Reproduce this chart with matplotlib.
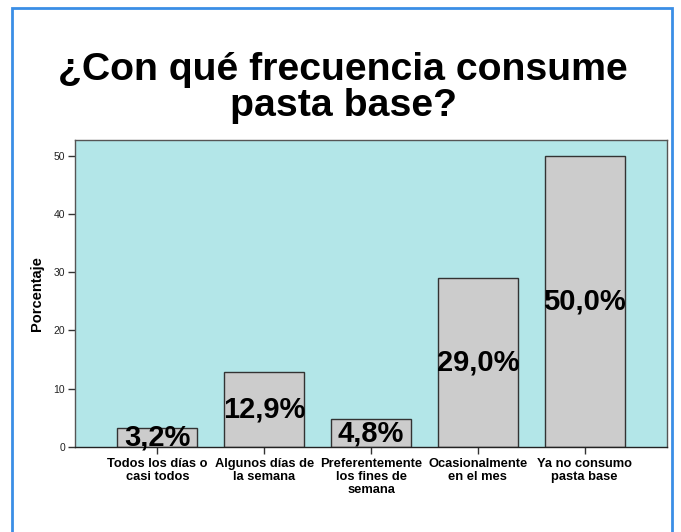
import matplotlib
matplotlib.use("Agg")
import matplotlib.pyplot as plt
from matplotlib.patches import Rectangle

plt.rcParams['font.family'] = ['Liberation Sans', 'DejaVu Sans']

# --- data ---
categories = [
    "Todos los días o\ncasi todos",
    "Algunos días de\nla semana",
    "Preferentemente\nlos fines de\nsemana",
    "Ocasionalmente\nen el mes",
    "Ya no consumo\npasta base",
]
percent = [3.2, 12.9, 4.8, 29.0, 50.0]
bar_labels = ["3,2%", "12,9%", "4,8%", "29,0%", "50,0%"]
y_ticks = [0, 10, 20, 30, 40, 50]

title = "¿Con qué frecuencia consume\npasta base?"

W, H = 681, 532
fig = plt.figure(figsize=(W / 100, H / 100), dpi=100)
fig.patch.set_facecolor("white")

# blue frame around the whole chart (bottom edge runs off the image)
fig.patches.append(Rectangle((12 / W, -0.05), 660 / W, 1.05 - 8 / H,
                             transform=fig.transFigure, fill=False,
                             edgecolor="#3a8ee6", linewidth=2))

fig.text(343 / W, 1 - 88 / H, title, ha="center", va="center",
         fontsize=28.3, fontweight="bold", linespacing=0.98)

# axes in pixel coordinates: left 75, right 667, top 140, bottom 447
ax = fig.add_axes([75 / W, 1 - 447 / H, (667 - 75) / W, (447 - 140) / H])
ax.set_facecolor("#b3e6e8")

x = list(range(len(categories)))
ax.bar(x, percent, width=0.75, color="#cccccc", edgecolor="#333333", linewidth=1)

for xi, v, lab in zip(x, percent, bar_labels):
    ax.text(xi, v / 2, lab, ha="center", va="center",
            fontsize=21, fontweight="bold", color="black")

ax.set_xlim(-0.77, 4.77)
ax.set_ylim(0, 52.7)
ax.set_yticks(y_ticks)
ax.set_yticklabels([str(t) for t in y_ticks], fontsize=7.5, color="#222222")
ax.set_xticks(x)
ax.set_xticklabels(categories, fontsize=9.3, fontweight="bold", linespacing=1.1)
ax.tick_params(axis="both", direction="out", length=5, width=1, color="#333333", pad=2)
ax.tick_params(axis="x", pad=3)
ax.set_ylabel("Porcentaje", fontsize=10.5, fontweight="bold", labelpad=7)

for s in ax.spines.values():
    s.set_color("#555555")
    s.set_linewidth(1)
ax.spines["bottom"].set_color("#222222")

fig.savefig("out.png", dpi=100)
